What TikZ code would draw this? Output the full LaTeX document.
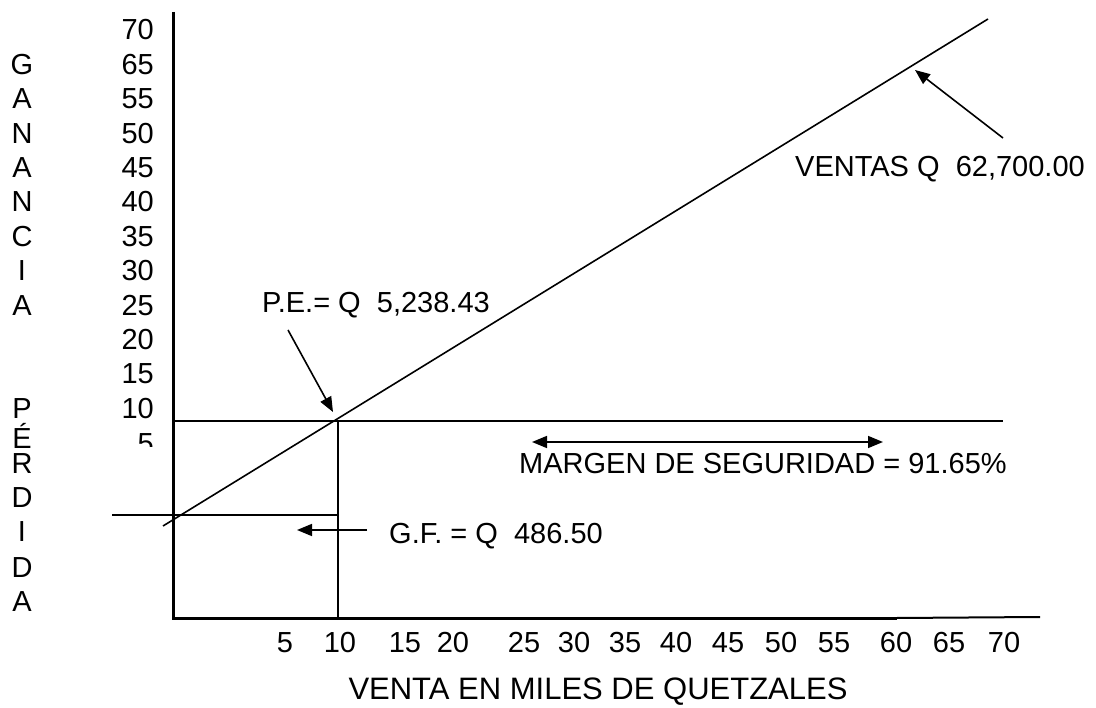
\documentclass[tikz,border=0pt]{standalone}
\usepackage{fontspec}
\setmainfont{Liberation Sans}
\usetikzlibrary{arrows.meta}
\begin{document}
\begin{tikzpicture}[x=1pt,y=-1pt,
  lbl/.style={inner sep=0pt, font=\fontsize{29}{34}\selectfont},
  axisline/.style={line width=3pt},
  guide/.style={line width=2pt},
  salesline/.style={line width=1.6pt},
  pointer/.style={line width=1.6pt, -{Triangle[length=15pt,width=12pt]}},
  twoway/.style={line width=1.6pt, {Triangle[length=15pt,width=12pt]}-{Triangle[length=15pt,width=12pt]}},
]
\useasboundingbox (0,0) rectangle (1096,708);
% axes
\coordinate (O) at (173,618);
\coordinate (ytop) at (173,12);
\coordinate (xmid) at (897,618);
\coordinate (xend) at (1040,617);
\draw[axisline] (ytop) -- (O) -- (xmid);
\draw[guide] (xmid) -- (xend);
% guide lines
\coordinate (peL) at (173,421);
\coordinate (peR) at (1003,421);
\coordinate (pe) at (338,421);
\coordinate (pebot) at (338,618);
\coordinate (gfL) at (112,515);
\coordinate (gfR) at (338,515);
\draw[guide] (peL) -- (peR);
\draw[guide] (pe) -- (pebot);
\draw[guide] (gfL) -- (gfR);
% sales line
\coordinate (s0) at (163,526);
\coordinate (s1) at (988,19);
\draw[salesline] (s0) -- (s1);
% y labels
\foreach \v [count=\i from 0] in {70,65,55,50,45,40,35,30,25,20,15,10}
  \node[lbl,anchor=base east] (y\v) at (154,40+34.4*\i) {\v};
\begin{scope}
  \clip (100,425) rectangle (170,447);
  \node[lbl,anchor=base east] (y5) at (154,453.5) {5};
\end{scope}
% vertical words
\foreach \l [count=\i from 1] in {G,A,N,A,N,C,I,A}
  \node[lbl,anchor=base] (g\i) at (22,40+34.4*\i) {\l};
\foreach \l/\y [count=\i] in {P/418.4,É/449,R/473.5,D/507.5,I/541.5,D/577,A/612}
  \node[lbl,anchor=base] (p\i) at (22,\y) {\l};
% x labels
\foreach \v/\x in {5/285,10/340,15/405,20/453,25/524,30/574,35/625,40/676,45/728,50/781,55/834,60/896,65/949,70/1004}
  \node[lbl,anchor=base] (x\v) at (\x,652) {\v};
\node[lbl,anchor=base,font=\fontsize{31}{36}\selectfont] (title) at (598,699) {VENTA EN MILES DE QUETZALES};
% annotations
\node[lbl,anchor=base west] (petext) at (262,312.5) {P.E.= Q\ \ 5,238.43};
\coordinate (pefrom) at (288,330);
\coordinate (peto) at (333,412);
\draw[pointer] (pefrom) -- (peto);

\node[lbl,anchor=base west] (vtext) at (795,176.5) {VENTAS Q\ \ 62,700.00};
\coordinate (vfrom) at (1003,138);
\coordinate (vto) at (915,70);
\draw[pointer] (vfrom) -- (vto);

\node[lbl,anchor=base west] (mtext) at (519,473.5) {MARGEN DE SEGURIDAD = 91.65\%};
\coordinate (mL) at (532,442);
\coordinate (mR) at (883,442);
\draw[twoway] (mL) -- (mR);

\node[lbl,anchor=base west] (gftext) at (389,543.5) {G.F. = Q\ \ 486.50};
\coordinate (gffrom) at (367,530);
\coordinate (gfto) at (297,530);
\draw[pointer] (gffrom) -- (gfto);
\end{tikzpicture}
\end{document}
